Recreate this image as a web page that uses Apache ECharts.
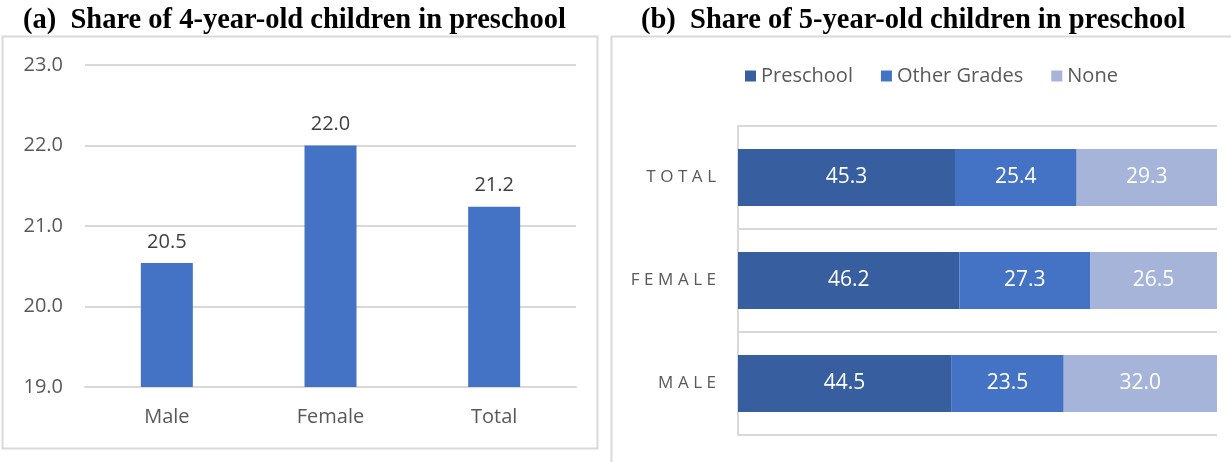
<!DOCTYPE html>
<html>
<head>
<meta charset="utf-8">
<script src="https://cdn.jsdelivr.net/npm/echarts@6/dist/echarts.min.js"></script>
<style>
  html, body { margin: 0; padding: 0; background: #fff; }
  #chart { width: 1231px; height: 462px; }
</style>
</head>
<body>
<div id="chart"></div>
<script>
// panel (a)
var ageFourCats = ['Male', 'Female', 'Total']
var ageFourVals = [20.54, 22.0, 21.24]
var ageFourTicks = { min: 19, max: 23, interval: 1 }

// panel (b)
var ageFiveCats = ['MALE', 'FEMALE', 'TOTAL']
var preschool = [44.5, 46.2, 45.3]
var otherGrades = [23.5, 27.3, 25.4]
var noneVals = [32.0, 26.5, 29.3]
var legendNames = ['Preschool', 'Other Grades', 'None']

var chart = echarts.init(document.getElementById('chart'))
var gray = '#595959'
var lineGray = '#d9d9d9'
var font = 'Open Sans'
var titleFont = { fontFamily: 'Liberation Serif', fontWeight: 'bold', fontSize: 28.5, color: '#000' }

var stackLabel = {
  show: true,
  position: 'inside',
  color: '#fff',
  fontSize: 21,
  fontFamily: font,
  formatter: function(p) { return p.value.toFixed(1) }
}

chart.setOption({
  animation: false,
  title: [{
    text: '(a)  Share of 4-year-old children in preschool',
    left: 18,
    top: 1,
    textStyle: titleFont
  }, {
    text: '(b)  Share of 5-year-old children in preschool',
    left: 636,
    top: 1,
    textStyle: titleFont
  }],
  graphic: [{
    type: 'rect',
    shape: { x: 2.5, y: 36.5, width: 595, height: 412 },
    style: { fill: 'none', stroke: lineGray, lineWidth: 2 }
  }, {
    type: 'rect',
    shape: { x: 611.5, y: 36.5, width: 700, height: 500 },
    style: { fill: 'none', stroke: lineGray, lineWidth: 2 }
  }],
  legend: {
    data: legendNames,
    left: 740,
    top: 61,
    itemWidth: 11,
    itemHeight: 11,
    itemGap: 28,
    icon: 'rect',
    textStyle: { color: gray, fontSize: 20, fontFamily: font }
  },
  grid: [
    { left: 85, right: 655, top: 65, bottom: 75 },
    { left: 738, right: 14, top: 126, bottom: 27 }
  ],
  xAxis: [{
    type: 'category',
    gridIndex: 0,
    data: ageFourCats,
    axisTick: { show: false },
    axisLine: { lineStyle: { color: lineGray, width: 2 } },
    axisLabel: { color: gray, fontSize: 20, fontFamily: font, margin: 20 }
  }, {
    type: 'value',
    gridIndex: 1,
    min: 0,
    max: 100,
    axisLabel: { show: false },
    axisLine: { show: false },
    axisTick: { show: false },
    splitLine: { show: false }
  }],
  yAxis: [{
    type: 'value',
    gridIndex: 0,
    min: ageFourTicks.min,
    max: ageFourTicks.max,
    interval: ageFourTicks.interval,
    axisLabel: {
      color: gray, fontSize: 20, fontFamily: font, margin: 22,
      formatter: function(v) { return v.toFixed(1) }
    },
    axisLine: { show: false },
    axisTick: { show: false },
    splitLine: { lineStyle: { color: lineGray, width: 2 } }
  }, {
    type: 'category',
    gridIndex: 1,
    data: ageFiveCats,
    axisTick: { show: false },
    axisLine: { show: true, lineStyle: { color: lineGray, width: 2 } },
    splitLine: { show: true, lineStyle: { color: lineGray, width: 2 } },
    axisLabel: {
      color: gray, fontSize: 17, fontFamily: font, margin: 22,
      formatter: function(v) { return v.split('').join('\u2009\u200A') }
    }
  }],
  series: [{
    type: 'bar',
    xAxisIndex: 0,
    yAxisIndex: 0,
    data: ageFourVals,
    barWidth: 52,
    itemStyle: { color: '#4472C4' },
    label: {
      show: true,
      position: 'top',
      distance: 11,
      color: '#404040',
      fontSize: 20,
      fontFamily: font,
      formatter: function(p) { return p.value.toFixed(1) }
    }
  }, {
    name: legendNames[0],
    type: 'bar',
    stack: 'b',
    xAxisIndex: 1,
    yAxisIndex: 1,
    data: preschool,
    barWidth: 57,
    itemStyle: { color: '#375E9F' },
    label: stackLabel
  }, {
    name: legendNames[1],
    type: 'bar',
    stack: 'b',
    xAxisIndex: 1,
    yAxisIndex: 1,
    data: otherGrades,
    barWidth: 57,
    itemStyle: { color: '#4472C4' },
    label: stackLabel
  }, {
    name: legendNames[2],
    type: 'bar',
    stack: 'b',
    xAxisIndex: 1,
    yAxisIndex: 1,
    data: noneVals,
    barWidth: 57,
    itemStyle: { color: '#A6B4DA' },
    label: stackLabel
  }]
})
</script>
</body>
</html>
